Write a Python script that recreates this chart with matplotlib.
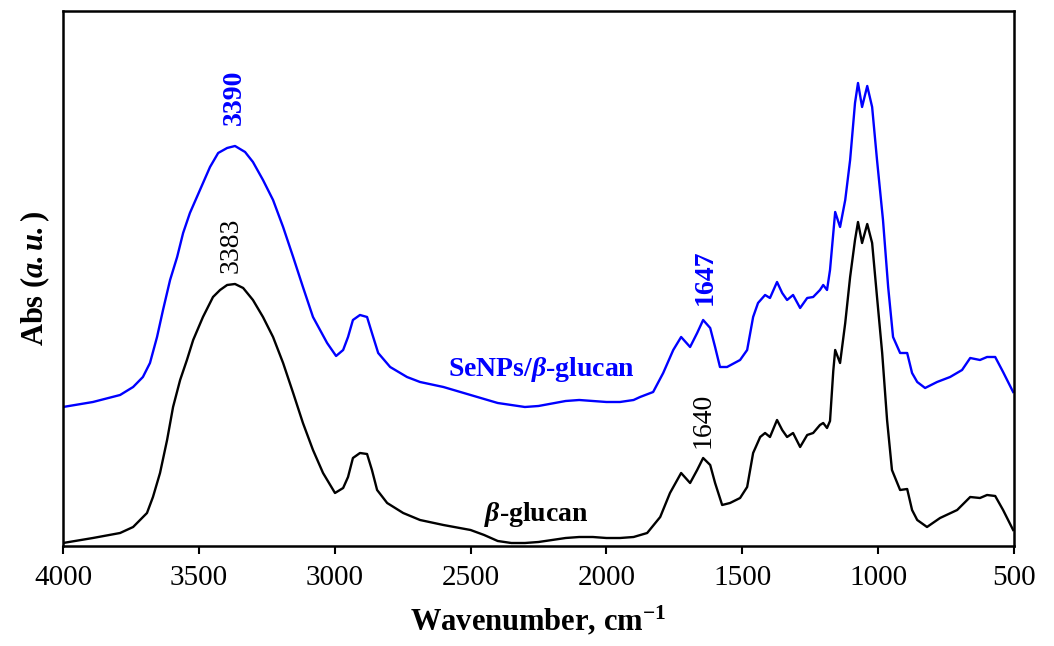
import matplotlib.pyplot as plt

plt.rcParams['font.family'] = ['Liberation Serif', 'DejaVu Serif']
plt.rcParams['mathtext.fontset'] = 'custom'
plt.rcParams['mathtext.rm'] = 'Liberation Serif'
plt.rcParams['mathtext.it'] = 'Liberation Serif:italic'
plt.rcParams['mathtext.bf'] = 'Liberation Serif:bold'
plt.rcParams['mathtext.bfit'] = 'Liberation Serif:italic:bold'

# beta-glucan spectrum (wavenumber, arbitrary absorbance)
wn_glucan = [4000, 3890, 3790, 3742, 3691, 3669, 3643, 3617, 3595, 3569,
             3544, 3521, 3485, 3448, 3422, 3396, 3367, 3337, 3301, 3264,
             3227, 3190, 3153, 3117, 3080, 3043, 2999, 2969, 2951, 2933,
             2907, 2881, 2863, 2844, 2807, 2748, 2686, 2600, 2500, 2450,
             2400, 2350, 2300, 2250, 2150, 2100, 2050, 2000, 1950, 1900,
             1850, 1802, 1766, 1725, 1692, 1666, 1644, 1618, 1600, 1574,
             1545, 1508, 1482, 1460, 1434, 1416, 1398, 1372, 1353, 1335,
             1313, 1287, 1261, 1239, 1214, 1202, 1188, 1177, 1165, 1158,
             1140, 1121, 1103, 1085, 1074, 1059, 1040, 1022, 1004, 985,
             967, 949, 919, 893, 875, 856, 820, 772, 709, 661,
             625, 599, 569, 540, 503]
abs_glucan = [3, 8, 13, 19, 33, 49, 73, 106, 139, 166,
              186, 206, 229, 249, 256, 261, 262, 258, 246, 229,
              209, 183, 153, 123, 96, 73, 53, 58, 69, 88,
              93, 92, 76, 56, 43, 33, 26, 21, 16, 11,
              5, 3, 3, 4, 8, 9, 9, 8, 8, 9,
              13, 29, 53, 73, 63, 76, 88, 81, 63, 41,
              43, 48, 59, 93, 109, 113, 109, 126, 116, 109,
              113, 99, 111, 113, 121, 123, 118, 125, 175, 196,
              183, 223, 269, 306, 324, 303, 322, 303, 249, 193,
              126, 76, 56, 57, 36, 26, 19, 28, 36, 49,
              48, 51, 50, 36, 16]

# SeNPs/beta-glucan spectrum
wn_senps = [4000, 3890, 3790, 3742, 3706, 3680, 3654, 3632, 3606, 3580,
            3558, 3533, 3496, 3459, 3429, 3396, 3367, 3330, 3301, 3264,
            3227, 3190, 3153, 3117, 3080, 3028, 2995, 2969, 2951, 2933,
            2907, 2881, 2863, 2840, 2796, 2734, 2686, 2600, 2500, 2400,
            2350, 2300, 2250, 2150, 2100, 2000, 1950, 1900, 1876, 1828,
            1791, 1754, 1725, 1692, 1666, 1644, 1618, 1600, 1582, 1556,
            1508, 1482, 1460, 1442, 1416, 1398, 1372, 1353, 1335, 1313,
            1287, 1261, 1239, 1214, 1202, 1188, 1177, 1158, 1140, 1121,
            1103, 1085, 1074, 1059, 1040, 1022, 1004, 982, 963, 945,
            919, 893, 875, 856, 827, 783, 735, 691, 661, 625,
            599, 569, 540, 503]
abs_senps = [139, 144, 151, 159, 169, 183, 209, 236, 266, 289,
             313, 333, 356, 379, 393, 398, 400, 394, 384, 366,
             346, 319, 289, 259, 229, 203, 190, 196, 209, 226,
             231, 229, 213, 193, 179, 169, 164, 159, 151, 143,
             141, 139, 140, 145, 146, 144, 144, 146, 149, 154,
             173, 196, 209, 199, 213, 226, 218, 199, 179, 179,
             186, 196, 229, 243, 251, 248, 264, 253, 246, 251,
             238, 248, 249, 256, 261, 256, 276, 334, 319, 346,
             386, 443, 463, 439, 460, 439, 386, 326, 259, 209,
             193, 193, 173, 164, 158, 164, 169, 176, 188, 186,
             189, 189, 174, 154]

fig = plt.figure(figsize=(10.54, 6.46), dpi=100)
ax = fig.add_axes([0.0598, 0.1548, 0.9022, 0.8282])

ax.plot(wn_glucan, abs_glucan, color='black', linewidth=1.7)
ax.plot(wn_senps, abs_senps, color='#0000ff', linewidth=1.7)

ax.set_xlim(4000, 500)
ax.set_ylim(0, 535)
ax.set_xticks([4000, 3500, 3000, 2500, 2000, 1500, 1000, 500])
ax.set_yticks([])
ax.tick_params(axis='x', direction='out', length=6, width=1.5, labelsize=21, pad=8)
for s in ax.spines.values():
    s.set_linewidth(1.8)

ax.set_xlabel(r'Wavenumber, cm$^{\mathbf{-1}}$', fontsize=22, fontweight='bold', labelpad=9)
ax.set_ylabel(r'Abs ($\mathbfit{a.u.}$)', fontsize=22, fontweight='bold', labelpad=8)

# peak labels
ax.text(3371, 449, '3390', color='#0000ff', fontsize=20, fontweight='bold',
        rotation=90, ha='center', va='center')
ax.text(3382, 301, '3383', color='black', fontsize=20,
        rotation=90, ha='center', va='center')
ax.text(1637, 269, '1647', color='#0000ff', fontsize=20, fontweight='bold',
        rotation=90, ha='center', va='center')
ax.text(1644, 126, '1640', color='black', fontsize=20,
        rotation=90, ha='center', va='center')

# series labels
ax.text(2240, 176, r'SeNPs/$\mathbfit{\beta}$-glucan', color='#0000ff', fontsize=20,
        fontweight='bold', ha='center', va='center')
ax.text(2259, 31, r'$\mathbfit{\beta}$-glucan', color='black', fontsize=20,
        fontweight='bold', ha='center', va='center')

fig.savefig('out.png', dpi=100)
